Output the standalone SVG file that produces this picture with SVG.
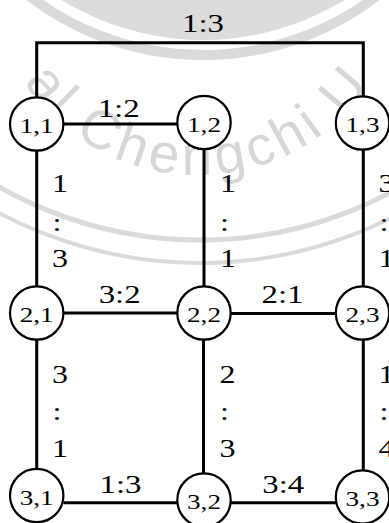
<svg xmlns="http://www.w3.org/2000/svg" width="389" height="523" viewBox="0 0 389 523">
<style>
.wm{fill:none;stroke:#dadada}
.wmt{fill:#d6d6d6;font-family:"Liberation Sans",Arial,sans-serif;font-size:55px;letter-spacing:5px}
.edge{fill:none;stroke:#000;stroke-width:3}
.node circle{fill:#fff;stroke:#000;stroke-width:2.2}
.node text{font-family:"Liberation Serif","Times New Roman",serif;font-size:22px;text-anchor:middle;fill:#000}
.lbl{font-family:"Liberation Serif","Times New Roman",serif;font-size:26px;text-anchor:middle;fill:#000}
</style>
<defs>
<path id="wmArc" d="M -12,-35 A 210 210 0 0 0 408,-35"/>
</defs>
<g id="watermark">
<circle cx="203" cy="-230" r="270" fill="#dcdcdc"/>
<circle class="wm" cx="203" cy="-230" r="285" stroke-width="10"/>
<circle class="wm" cx="200" cy="-165" r="405" stroke-width="5"/>
<circle class="wm" cx="200" cy="-165" r="428" stroke-width="4"/>
<text class="wmt"><textPath href="#wmArc" startOffset="50%" text-anchor="middle">al Chengchi U</textPath></text>
</g>
<g id="connectors">
<path class="edge" d="M36.7,97 V42.7 H363.3 V96"/>
<path class="edge" d="M63.5,124 H177"/>
<path class="edge" d="M36.7,150.5 V286.5"/>
<path class="edge" d="M204,149 V286.5"/>
<path class="edge" d="M363.3,150 V286"/>
<path class="edge" d="M63.5,313 H177"/>
<path class="edge" d="M231,313.5 H336"/>
<path class="edge" d="M36.7,340 V469"/>
<path class="edge" d="M203.5,340 V473"/>
<path class="edge" d="M363.3,340 V470.5"/>
<path class="edge" d="M63.5,502.7 H177"/>
<path class="edge" d="M231,502.7 H336"/>
</g>
<g id="edge-labels">
<text class="lbl" x="203" y="31.5" textLength="42" lengthAdjust="spacingAndGlyphs">1:3</text>
<text class="lbl" x="118.7" y="117" textLength="42" lengthAdjust="spacingAndGlyphs">1:2</text>
<text class="lbl" x="119.7" y="303.3" textLength="42" lengthAdjust="spacingAndGlyphs">3:2</text>
<text class="lbl" x="282.5" y="303.3" textLength="42" lengthAdjust="spacingAndGlyphs">2:1</text>
<text class="lbl" x="120.5" y="493.3" textLength="42" lengthAdjust="spacingAndGlyphs">1:3</text>
<text class="lbl" x="283.3" y="493.3" textLength="42" lengthAdjust="spacingAndGlyphs">3:4</text>
<text class="lbl" x="60" y="191.7" textLength="16" lengthAdjust="spacingAndGlyphs">1</text>
<text class="lbl" x="57" y="230.5" textLength="9" lengthAdjust="spacingAndGlyphs">:</text>
<text class="lbl" x="60" y="267" textLength="16" lengthAdjust="spacingAndGlyphs">3</text>
<text class="lbl" x="228" y="191.7" textLength="16" lengthAdjust="spacingAndGlyphs">1</text>
<text class="lbl" x="224.5" y="230.5" textLength="9" lengthAdjust="spacingAndGlyphs">:</text>
<text class="lbl" x="228" y="267" textLength="16" lengthAdjust="spacingAndGlyphs">1</text>
<text class="lbl" x="386.5" y="191.7" textLength="16" lengthAdjust="spacingAndGlyphs">3</text>
<text class="lbl" x="384" y="230.5" textLength="9" lengthAdjust="spacingAndGlyphs">:</text>
<text class="lbl" x="386.5" y="267" textLength="16" lengthAdjust="spacingAndGlyphs">1</text>
<text class="lbl" x="60" y="382.7" textLength="16" lengthAdjust="spacingAndGlyphs">3</text>
<text class="lbl" x="57" y="419.5" textLength="9" lengthAdjust="spacingAndGlyphs">:</text>
<text class="lbl" x="60" y="457" textLength="16" lengthAdjust="spacingAndGlyphs">1</text>
<text class="lbl" x="227.5" y="382.7" textLength="16" lengthAdjust="spacingAndGlyphs">2</text>
<text class="lbl" x="224.5" y="419.5" textLength="9" lengthAdjust="spacingAndGlyphs">:</text>
<text class="lbl" x="227.5" y="457" textLength="16" lengthAdjust="spacingAndGlyphs">3</text>
<text class="lbl" x="386.5" y="382.7" textLength="16" lengthAdjust="spacingAndGlyphs">1</text>
<text class="lbl" x="384" y="419.5" textLength="9" lengthAdjust="spacingAndGlyphs">:</text>
<text class="lbl" x="386.5" y="457" textLength="16" lengthAdjust="spacingAndGlyphs">4</text>
</g>
<g id="n11" class="node"><circle cx="36.7" cy="124" r="26.7"/><text x="36.7" y="133" textLength="34" lengthAdjust="spacingAndGlyphs">1,1</text></g>
<g id="n12" class="node"><circle cx="204" cy="122.5" r="26.7"/><text x="204" y="131.5" textLength="34" lengthAdjust="spacingAndGlyphs">1,2</text></g>
<g id="n13" class="node"><circle cx="362.5" cy="123" r="26.7"/><text x="362.5" y="132" textLength="34" lengthAdjust="spacingAndGlyphs">1,3</text></g>
<g id="n21" class="node"><circle cx="36.7" cy="313" r="26.7"/><text x="36.7" y="322" textLength="34" lengthAdjust="spacingAndGlyphs">2,1</text></g>
<g id="n22" class="node"><circle cx="204" cy="313" r="26.7"/><text x="204" y="322" textLength="34" lengthAdjust="spacingAndGlyphs">2,2</text></g>
<g id="n23" class="node"><circle cx="362.5" cy="313" r="26.7"/><text x="362.5" y="322" textLength="34" lengthAdjust="spacingAndGlyphs">2,3</text></g>
<g id="n31" class="node"><circle cx="36.7" cy="495.5" r="26.7"/><text x="36.7" y="504.5" textLength="34" lengthAdjust="spacingAndGlyphs">3,1</text></g>
<g id="n32" class="node"><circle cx="204" cy="500" r="26.7"/><text x="204" y="508.5" textLength="34" lengthAdjust="spacingAndGlyphs">3,2</text></g>
<g id="n33" class="node"><circle cx="362.5" cy="497" r="26.7"/><text x="362.5" y="506" textLength="34" lengthAdjust="spacingAndGlyphs">3,3</text></g>
</svg>
